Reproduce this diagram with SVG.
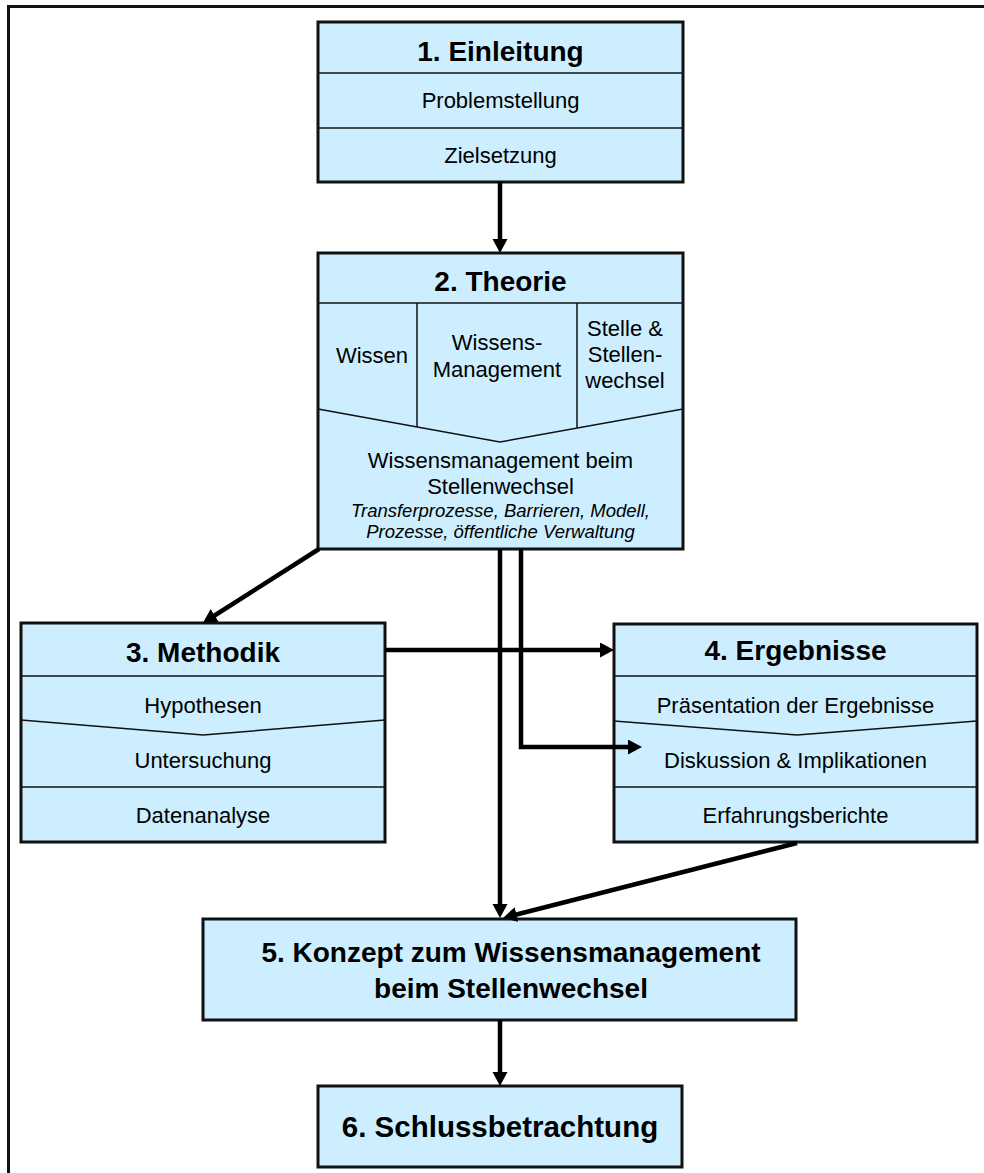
<svg xmlns="http://www.w3.org/2000/svg" width="984" height="1173" viewBox="0 0 984 1173">
  <style>
    .box { fill: #cceeff; stroke: #111; stroke-width: 3; }
    .div { fill: none; stroke: #111; stroke-width: 1.5; }
    .conn { fill: none; stroke: #000; stroke-width: 4.5; }
    text { font-family: "Liberation Sans", Arial, sans-serif; fill: #000; text-anchor: middle; }
    .title { font-size: 28px; font-weight: bold; }
    .item { font-size: 22px; }
    .note { font-size: 18.5px; font-style: italic; }
  </style>
  <defs>
    <marker id="arrow" markerUnits="userSpaceOnUse" markerWidth="16" markerHeight="16" refX="2" refY="7.5" orient="auto">
      <path d="M0,0 L14,7.5 L0,15 z" fill="#000"/>
    </marker>
  </defs>

  <rect width="984" height="1173" fill="#fff"/>
  <!-- outer frame (only top and left edges fall inside the page) -->
  <path d="M8.5,1173 V6.5 H984" fill="none" stroke="#111" stroke-width="3"/>

  <!-- 1. Einleitung -->
  <g id="node-einleitung">
    <rect class="box" x="318" y="22" width="365" height="160"/>
    <line class="div" x1="318" y1="73" x2="683" y2="73"/>
    <line class="div" x1="318" y1="128" x2="683" y2="128"/>
    <text class="title" x="500.5" y="61">1. Einleitung</text>
    <text class="item" x="500.5" y="108">Problemstellung</text>
    <text class="item" x="500.5" y="163">Zielsetzung</text>
  </g>

  <!-- 2. Theorie -->
  <g id="node-theorie">
    <rect class="box" x="318" y="253" width="365" height="296"/>
    <line class="div" x1="318" y1="303" x2="683" y2="303"/>
    <line class="div" x1="417" y1="303" x2="417" y2="427"/>
    <line class="div" x1="577" y1="303" x2="577" y2="428"/>
    <polyline class="div" points="318,409 500,442 683,409"/>
    <text class="title" x="500.5" y="291">2. Theorie</text>
    <text class="item" x="372" y="363">Wissen</text>
    <text class="item" x="497" y="350">Wissens-</text>
    <text class="item" x="497" y="377">Management</text>
    <text class="item" x="625" y="336">Stelle &amp;</text>
    <text class="item" x="625" y="362">Stellen-</text>
    <text class="item" x="625" y="388">wechsel</text>
    <text class="item" x="500.5" y="468">Wissensmanagement beim</text>
    <text class="item" x="500.5" y="494">Stellenwechsel</text>
    <text class="note" x="500.5" y="517">Transferprozesse, Barrieren, Modell,</text>
    <text class="note" x="500.5" y="538">Prozesse, öffentliche Verwaltung</text>
  </g>

  <!-- 3. Methodik -->
  <g id="node-methodik">
    <rect class="box" x="21" y="623" width="364" height="219"/>
    <line class="div" x1="21" y1="676" x2="385" y2="676"/>
    <polyline class="div" points="21,720 203,735 385,720"/>
    <line class="div" x1="21" y1="787" x2="385" y2="787"/>
    <text class="title" x="203" y="662">3. Methodik</text>
    <text class="item" x="203" y="713">Hypothesen</text>
    <text class="item" x="203" y="768">Untersuchung</text>
    <text class="item" x="203" y="823">Datenanalyse</text>
  </g>

  <!-- 4. Ergebnisse -->
  <g id="node-ergebnisse">
    <rect class="box" x="614" y="624" width="363" height="218"/>
    <line class="div" x1="614" y1="676" x2="977" y2="676"/>
    <polyline class="div" points="614,721 797,735 977,721"/>
    <line class="div" x1="614" y1="787" x2="977" y2="787"/>
    <text class="title" x="795.5" y="660">4. Ergebnisse</text>
    <text class="item" x="795.5" y="713">Präsentation der Ergebnisse</text>
    <text class="item" x="795.5" y="768">Diskussion &amp; Implikationen</text>
    <text class="item" x="795.5" y="823">Erfahrungsberichte</text>
  </g>

  <!-- 5. Konzept -->
  <g id="node-konzept">
    <rect class="box" x="203" y="919" width="593" height="101"/>
    <text class="title" x="511" y="962">5. Konzept zum Wissensmanagement</text>
    <text class="title" x="511" y="998">beim Stellenwechsel</text>
  </g>

  <!-- 6. Schlussbetrachtung -->
  <g id="node-schluss">
    <rect class="box" x="318" y="1086" width="364" height="81"/>
    <text class="title" x="500" y="1137" style="font-size:29.5px">6. Schlussbetrachtung</text>
  </g>

  <!-- connectors, drawn last so the arrow into "Diskussion" sits on top of its box -->
  <g id="connectors">
    <line class="conn" x1="500" y1="182" x2="500" y2="241" marker-end="url(#arrow)"/>
    <line class="conn" x1="319" y1="549" x2="213" y2="616.5" marker-end="url(#arrow)"/>
    <line class="conn" x1="385" y1="650" x2="602" y2="650" marker-end="url(#arrow)"/>
    <line class="conn" x1="500" y1="549" x2="500" y2="906" marker-end="url(#arrow)"/>
    <path class="conn" d="M521,549 V747 H630" marker-end="url(#arrow)"/>
    <line class="conn" x1="797" y1="843" x2="514.6" y2="915" marker-end="url(#arrow)"/>
    <line class="conn" x1="500" y1="1020" x2="500" y2="1074" marker-end="url(#arrow)"/>
  </g>
</svg>
